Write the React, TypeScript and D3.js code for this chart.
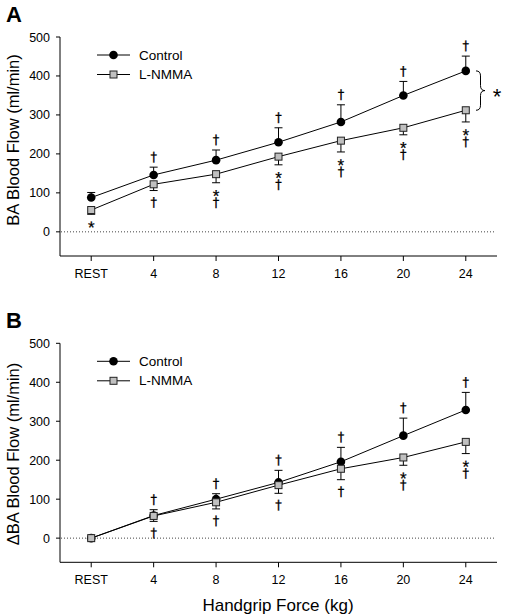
import React from "react";
import * as d3 from "d3";

const categories = ["REST", "4", "8", "12", "16", "20", "24"];
const yTicks = [0, 100, 200, 300, 400, 500];

// Panel A
const aControl = [88, 146, 184, 230, 282, 350, 413];
const aControlSE = [13, 20, 26, 37, 44, 36, 38];
const aLnmma = [56, 122, 148, 193, 234, 267, 312];
const aLnmmaSE = [11, 16, 22, 21, 29, 18, 30];
const aControlMarks = ["", "†", "†", "†", "†", "†", "†"];
const aLnmmaMarks = ["*", "†", "*†", "*†", "*†", "*†", "*†"];

// Panel B
const bControl = [0, 58, 100, 143, 196, 263, 329];
const bControlSE = [0, 15, 14, 31, 37, 45, 45];
const bLnmma = [0, 57, 92, 136, 178, 207, 247];
const bLnmmaSE = [0, 14, 17, 21, 28, 20, 30];
const bControlMarks = ["", "†", "†", "†", "†", "†", "†"];
const bLnmmaMarks = ["", "†", "†", "†", "†", "*†", "*†"];

const FONT = "'Liberation Sans', Arial, Helvetica, sans-serif";
const DFONT = "'DejaVu Sans', sans-serif";

type PanelProps = {
  top: number;
  letter: string;
  yLabel: string;
  yLabelCenter: number;
  control: number[];
  controlSE: number[];
  lnmma: number[];
  lnmmaSE: number[];
  controlMarks: string[];
  lnmmaMarks: string[];
  brace: boolean;
};

const x = d3.scaleLinear().domain([-0.5, 6.5]).range([60, 497]);

function bracePath(x0: number, y1: number, y2: number, w: number) {
  const ym = (y1 + y2) / 2;
  const q = 5;
  const xm = x0 + w / 2;
  return `M${x0},${y1} Q${xm},${y1} ${xm},${y1 + q} L${xm},${ym - q} Q${xm},${ym} ${x0 + w},${ym} Q${xm},${ym} ${xm},${ym + q} L${xm},${y2 - q} Q${xm},${y2} ${x0},${y2}`;
}

function Marks({ cx, top, s }: { cx: number; top: number; s: string }) {
  const chars = s.split("");
  let cur = top;
  const spans: { c: string; y: number }[] = [];
  chars.forEach((c) => {
    if (c === "*") {
      spans.push({ c, y: cur + 13 });
      cur += 8;
    } else {
      spans.push({ c, y: cur + 10 });
      cur += 14;
    }
  });
  return (
    <text
      textAnchor="middle"
      fill="#000"
      stroke="#000"
      strokeWidth={0.25}
      transform={`rotate(0.05 ${cx} ${top})`}
    >
      {spans.map((sp, k) =>
        sp.c === "*" ? (
          <tspan key={k} x={cx} y={sp.y} fontSize={17} fontFamily={FONT}>
            *
          </tspan>
        ) : (
          <tspan key={k} x={cx} y={sp.y} fontSize={13} fontFamily={DFONT}>
            †
          </tspan>
        )
      )}
    </text>
  );
}

function Panel(p: PanelProps) {
  const y = d3.scaleLinear().domain([-62, 500]).range([p.top + 219, p.top]);
  const line = d3
    .line<number>()
    .x((_, i) => x(i))
    .y((d) => y(d));
  const idx = d3.range(categories.length);
  const cap = 4;
  const legY1 = p.top + 18;
  const legY2 = p.top + 37.5;
  return (
    <g>
      <text x={6} y={p.top - 15} fontSize={22} fontWeight="bold" fontFamily={FONT}>
        {p.letter}
      </text>
      <text
        transform={`translate(19,${p.yLabelCenter}) rotate(-90)`}
        textAnchor="middle"
        fontSize={16.5}
        fontFamily={FONT}
      >
        {p.yLabel}
      </text>
      <line x1={60} x2={60} y1={p.top} y2={p.top + 219} stroke="#000" strokeWidth={1} />
      <line x1={60} x2={497} y1={p.top + 219} y2={p.top + 219} stroke="#000" strokeWidth={1} />
      {yTicks.map((t) => (
        <g key={t}>
          <line x1={56} x2={60} y1={y(t)} y2={y(t)} stroke="#000" />
          <text x={50} y={y(t) + 4.5} textAnchor="end" fontSize={12.5} fontFamily={FONT}>
            {t}
          </text>
        </g>
      ))}
      {idx.map((i) => (
        <g key={i}>
          <line x1={x(i)} x2={x(i)} y1={p.top + 219} y2={p.top + 224} stroke="#000" />
          <text x={x(i)} y={p.top + 241} textAnchor="middle" fontSize={12.5} fontFamily={FONT}>
            {categories[i]}
          </text>
        </g>
      ))}
      <line
        x1={61}
        x2={495}
        y1={y(0)}
        y2={y(0)}
        stroke="#444"
        strokeWidth={1}
        strokeDasharray="1,2"
      />
      <path d={line(p.control) || ""} fill="none" stroke="#000" strokeWidth={1} />
      {idx.map((i) =>
        p.controlSE[i] > 0 ? (
          <g key={"ce" + i}>
            <line x1={x(i)} x2={x(i)} y1={y(p.control[i])} y2={y(p.control[i] + p.controlSE[i])} stroke="#000" />
            <line
              x1={x(i) - cap}
              x2={x(i) + cap}
              y1={y(p.control[i] + p.controlSE[i])}
              y2={y(p.control[i] + p.controlSE[i])}
              stroke="#000"
            />
          </g>
        ) : null
      )}
      {idx.map((i) => (
        <circle key={"c" + i} cx={x(i)} cy={y(p.control[i])} r={4.3} fill="#000" />
      ))}
      <path d={line(p.lnmma) || ""} fill="none" stroke="#000" strokeWidth={1} />
      {idx.map((i) =>
        p.lnmmaSE[i] > 0 ? (
          <g key={"le" + i}>
            <line x1={x(i)} x2={x(i)} y1={y(p.lnmma[i])} y2={y(p.lnmma[i] - p.lnmmaSE[i])} stroke="#000" />
            <line
              x1={x(i) - cap}
              x2={x(i) + cap}
              y1={y(p.lnmma[i] - p.lnmmaSE[i])}
              y2={y(p.lnmma[i] - p.lnmmaSE[i])}
              stroke="#000"
            />
          </g>
        ) : null
      )}
      {idx.map((i) => (
        <rect
          key={"l" + i}
          x={x(i) - 3.5}
          y={y(p.lnmma[i]) - 3.5}
          width={7}
          height={7}
          fill="#c0c0c0"
          stroke="#222"
          strokeWidth={1}
        />
      ))}
      {idx.map((i) => {
        const s = p.controlMarks[i];
        if (!s) return null;
        const capY = y(p.control[i] + p.controlSE[i]);
        return <Marks key={"cm" + i} cx={x(i)} top={capY - 16} s={s} />;
      })}
      {idx.map((i) => {
        const s = p.lnmmaMarks[i];
        if (!s) return null;
        const capY = y(p.lnmma[i] - p.lnmmaSE[i]);
        return <Marks key={"lm" + i} cx={x(i)} top={capY + 6} s={s} />;
      })}
      {p.brace && (
        <g>
          <path
            d={bracePath(476, y(p.control[6]), y(p.lnmma[6]), 9)}
            fill="none"
            stroke="#000"
            strokeWidth={1}
          />
          <text x={497} y={y((p.control[6] + p.lnmma[6]) / 2) + 13} textAnchor="middle" fontSize={22} fontFamily={FONT}>
            *
          </text>
        </g>
      )}
      <line x1={97} x2={130} y1={legY1} y2={legY1} stroke="#000" />
      <circle cx={113.5} cy={legY1} r={4.3} fill="#000" />
      <text x={139} y={legY1 + 4.5} fontSize={13.5} fontFamily={FONT}>
        Control
      </text>
      <line x1={97} x2={130} y1={legY2} y2={legY2} stroke="#000" />
      <rect x={110} y={legY2 - 3.5} width={7} height={7} fill="#c0c0c0" stroke="#222" />
      <text x={139} y={legY2 + 4.5} fontSize={13.5} fontFamily={FONT}>
        L-NMMA
      </text>
    </g>
  );
}

export default function App() {
  return (
    <svg
      width={506}
      height={616}
      style={{ position: "absolute", left: 0, top: 0, background: "#fff" }}
    >
      <rect width={506} height={616} fill="#fff" />
      <Panel
        top={37}
        letter="A"
        yLabel="BA Blood Flow (ml/min)"
        yLabelCenter={140}
        control={aControl}
        controlSE={aControlSE}
        lnmma={aLnmma}
        lnmmaSE={aLnmmaSE}
        controlMarks={aControlMarks}
        lnmmaMarks={aLnmmaMarks}
        brace={true}
      />
      <Panel
        top={343.3}
        letter="B"
        yLabel="ΔBA Blood Flow (ml/min)"
        yLabelCenter={454}
        control={bControl}
        controlSE={bControlSE}
        lnmma={bLnmma}
        lnmmaSE={bLnmmaSE}
        controlMarks={bControlMarks}
        lnmmaMarks={bLnmmaMarks}
        brace={false}
      />
      <text x={278} y={611} textAnchor="middle" fontSize={17} fontFamily={FONT}>
        Handgrip Force (kg)
      </text>
    </svg>
  );
}
